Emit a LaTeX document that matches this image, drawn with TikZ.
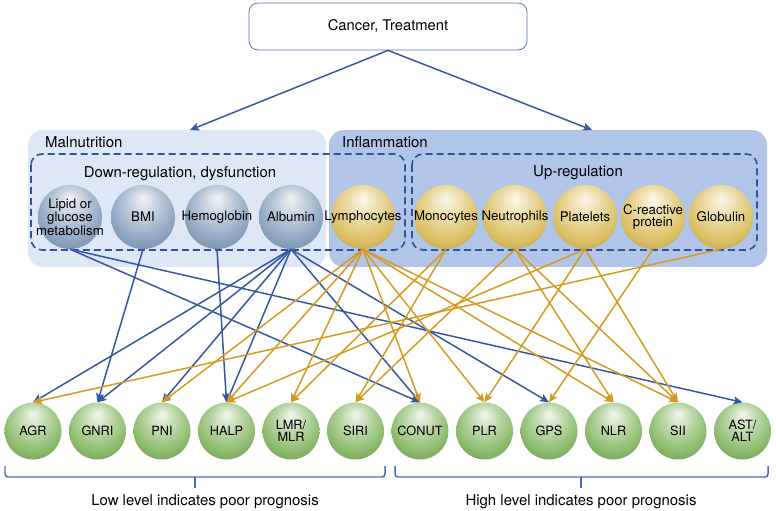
\documentclass[tikz,border=0pt]{standalone}
\usepackage{fontspec}
\setmainfont{TeX Gyre Heros}
\usetikzlibrary{arrows.meta}
\definecolor{eblue}{RGB}{52,88,162}
\definecolor{eorange}{RGB}{214,154,32}
\definecolor{boxline}{RGB}{88,120,185}
\definecolor{malfill}{RGB}{221,231,245}
\definecolor{inffill}{RGB}{176,197,231}
\definecolor{dashblue}{RGB}{45,85,155}
\definecolor{bracketblue}{RGB}{70,110,185}
\definecolor{sblue}{RGB}{140,164,190}
\definecolor{sgold}{RGB}{220,192,100}
\definecolor{sgreen}{RGB}{138,186,106}
\pgfdeclareradialshading{sphereblue}{\pgfpoint{0bp}{15bp}}{color(0bp)=(sblue!12!white); color(12bp)=(sblue!55!white); color(26bp)=(sblue); color(37bp)=(sblue!80!black); color(45bp)=(sblue!50!black); color(50bp)=(sblue!35!black)}
\pgfdeclareradialshading{spheregold}{\pgfpoint{0bp}{15bp}}{color(0bp)=(sgold!12!white); color(12bp)=(sgold!55!white); color(26bp)=(sgold); color(37bp)=(sgold!80!black); color(45bp)=(sgold!50!black); color(50bp)=(sgold!35!black)}
\pgfdeclareradialshading{spheregreen}{\pgfpoint{0bp}{15bp}}{color(0bp)=(sgreen!12!white); color(12bp)=(sgreen!55!white); color(26bp)=(sgreen); color(37bp)=(sgreen!80!black); color(45bp)=(sgreen!50!black); color(50bp)=(sgreen!35!black)}
\tikzset{
  bluearrow/.style={eblue, line width=1.5pt, -{Stealth[length=9bp,width=8bp,inset=2bp]}},
  goldarrow/.style={eorange, line width=1.5pt, -{Stealth[length=9bp,width=8bp,inset=2bp]}},
  bigball/.style={circle, minimum size=64bp, inner sep=0pt, shade},
  blueball/.style={bigball, shading=sphereblue},
  goldball/.style={bigball, shading=spheregold},
  greenball/.style={circle, minimum size=57bp, inner sep=0pt, shade, shading=spheregreen},
  balltext/.style={align=center, inner sep=0pt, font=\fontsize{13.3}{12.5}\selectfont},
  smalltext/.style={align=center, inner sep=0pt, font=\fontsize{12.8}{12.5}\selectfont},
  grouptext/.style={inner sep=0pt, font=\fontsize{15}{18}\selectfont},
  dashbox/.style={dashblue, line width=1.6pt, dash pattern=on 7bp off 4bp, rounded corners=11bp},
  bracket/.style={bracketblue, line width=1.5pt, rounded corners=3bp}
}
\begin{document}
\begin{tikzpicture}[x=1bp,y=-1bp]
   \useasboundingbox (0,0) rectangle (776,511);

   \node[draw=boxline, line width=0.8pt, rounded corners=9bp, minimum width=278bp, minimum height=47bp,
         font=\fontsize{14.8}{17}\selectfont] (cancer) at (388,26.5) {Cancer, Treatment};

   \fill[malfill, rounded corners=15bp] (28,130) rectangle (326,267);
   \fill[inffill, rounded corners=15bp] (329,130) rectangle (767,267);
   \coordinate (maltip) at (190,130);
   \coordinate (inftip) at (592,130);
   \draw[bluearrow] (cancer.south) -- (maltip);
   \draw[bluearrow] (cancer.south) -- (inftip);

   \node[grouptext, anchor=west] (maltext) at (45,142) {Malnutrition};
   \node[grouptext, anchor=west] (inftext) at (342,142) {Inflammation};
   \draw[dashbox] (31,154) rectangle (405,250);
   \draw[dashbox] (412,154) rectangle (757,250);
   \node[grouptext, anchor=base] (downtext) at (180,178) {Down-regulation, dysfunction};
   \node[grouptext, anchor=base] (uptext) at (578,177) {Up-regulation};

   \node[blueball] (lipid) at (70,217) {};
   \node[balltext] (lipidtext) at (lipid) {Lipid or\\glucose\\metabolism};
   \node[blueball] (bmi) at (143,217) {};
   \node[balltext] (bmitext) at (bmi) {BMI};
   \node[blueball] (hemo) at (217,217) {};
   \node[balltext] (hemotext) at (hemo) {Hemoglobin};
   \node[blueball] (alb) at (291,217) {};
   \node[balltext] (albtext) at (alb) {Albumin};
   \node[goldball] (lymph) at (363,217) {};
   \node[balltext] (lymphtext) at (lymph) {Lymphocytes};
   \node[goldball] (mono) at (446,217) {};
   \node[balltext] (monotext) at (mono) {Monocytes};
   \node[goldball] (neut) at (515,217) {};
   \node[balltext] (neuttext) at (neut) {Neutrophils};
   \node[goldball] (plat) at (585,217) {};
   \node[balltext] (plattext) at (plat) {Platelets};
   \node[goldball] (crp) at (653,217) {};
   \node[balltext] (crptext) at (crp) {C-reactive\\protein};
   \node[goldball] (glob) at (721,217) {};
   \node[balltext] (globtext) at (glob) {Globulin};

   \node[greenball] (agr) at (33,431) {};
   \node[smalltext] (agrtext) at (agr) {AGR};
   \node[greenball] (gnri) at (97.5,431) {};
   \node[smalltext] (gnritext) at (gnri) {GNRI};
   \node[greenball] (pni) at (162,431) {};
   \node[smalltext] (pnitext) at (pni) {PNI};
   \node[greenball] (halp) at (226.5,431) {};
   \node[smalltext] (halptext) at (halp) {HALP};
   \node[greenball] (lmr) at (291,431) {};
   \node[smalltext] (lmrtext) at (lmr) {LMR/\\MLR};
   \node[greenball] (siri) at (355.5,431) {};
   \node[smalltext] (siritext) at (siri) {SIRI};
   \node[greenball] (conut) at (420,431) {};
   \node[smalltext] (conuttext) at (conut) {CONUT};
   \node[greenball] (plr) at (484.5,431) {};
   \node[smalltext] (plrtext) at (plr) {PLR};
   \node[greenball] (gps) at (549,431) {};
   \node[smalltext] (gpstext) at (gps) {GPS};
   \node[greenball] (nlr) at (613.5,431) {};
   \node[smalltext] (nlrtext) at (nlr) {NLR};
   \node[greenball] (sii) at (678,431) {};
   \node[smalltext] (siitext) at (sii) {SII};
   \node[greenball] (astalt) at (742.5,431) {};
   \node[smalltext] (astalttext) at (astalt) {AST/\\ALT};

   \draw[bluearrow] (lipid.south) -- (conut.north);
   \draw[bluearrow] (lipid.south) -- (astalt.north);
   \draw[bluearrow] (bmi.south) -- (gnri.north);
   \draw[bluearrow] (hemo.south) -- (halp.north);
   \draw[bluearrow] (alb.south) -- (agr.north);
   \draw[bluearrow] (alb.south) -- (gnri.north);
   \draw[bluearrow] (alb.south) -- (pni.north);
   \draw[bluearrow] (alb.south) -- (halp.north);
   \draw[bluearrow] (alb.south) -- (conut.north);
   \draw[bluearrow] (alb.south) -- (gps.north);

   \draw[goldarrow] (lymph.south) -- (pni.north);
   \draw[goldarrow] (lymph.south) -- (halp.north);
   \draw[goldarrow] (lymph.south) -- (lmr.north);
   \draw[goldarrow] (lymph.south) -- (conut.north);
   \draw[goldarrow] (lymph.south) -- (plr.north);
   \draw[goldarrow] (lymph.south) -- (nlr.north);
   \draw[goldarrow] (lymph.south) -- (sii.north);
   \draw[goldarrow] (mono.south) -- (lmr.north);
   \draw[goldarrow] (mono.south) -- (siri.north);
   \draw[goldarrow] (neut.south) -- (siri.north);
   \draw[goldarrow] (neut.south) -- (nlr.north);
   \draw[goldarrow] (neut.south) -- (sii.north);
   \draw[goldarrow] (plat.south) -- (halp.north);
   \draw[goldarrow] (plat.south) -- (plr.north);
   \draw[goldarrow] (plat.south) -- (sii.north);
   \draw[goldarrow] (crp.south) -- (gps.north);
   \draw[goldarrow] (glob.south) -- (agr.north);

   \draw[bracket] (5,466) -- (5,477) -- (385,477) -- (385,466);
   \draw[bracket] (195,477) -- (195,488);
   \draw[bracket] (395,466) -- (395,477) -- (768,477) -- (768,466);
   \draw[bracket] (581,477) -- (581,488);
   \node[grouptext, anchor=base] (lowtext) at (205,505) {Low level indicates poor prognosis};
   \node[grouptext, anchor=base] (hightext) at (581,505) {High level indicates poor prognosis};
\end{tikzpicture}
\end{document}
